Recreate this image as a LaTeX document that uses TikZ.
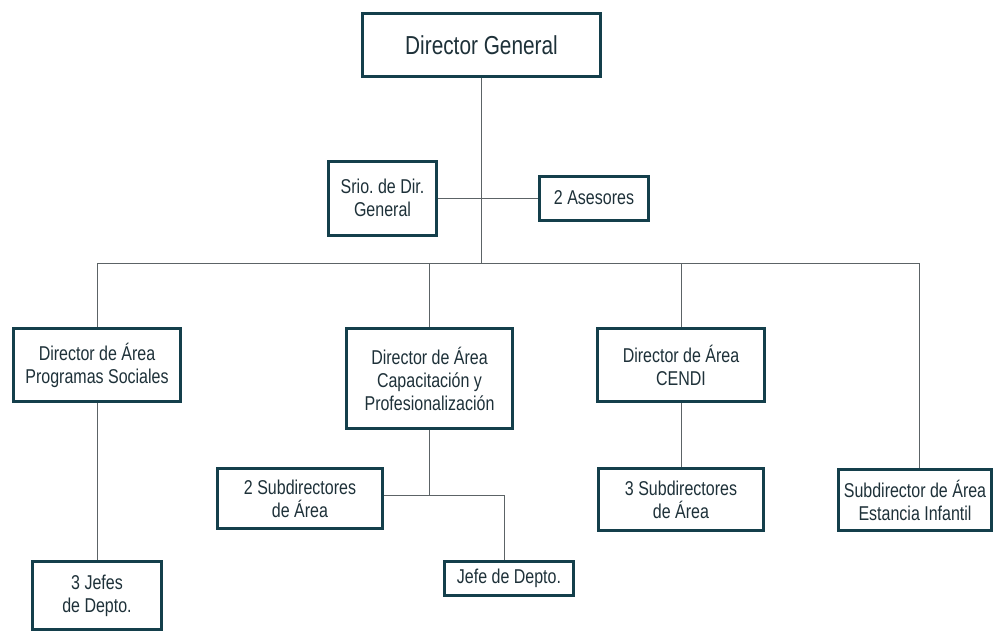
\documentclass[tikz,border=0pt]{standalone}
\usepackage{fontspec}
\setmainfont{Liberation Sans}[FakeStretch=0.8]
\usepackage{tikz}
\frenchspacing
\definecolor{frame}{HTML}{143F4B}
\definecolor{ink}{HTML}{1E3139}
\definecolor{wire}{HTML}{5C6366}
\tikzset{
  post/.style={draw=frame, line width=3pt, fill=white, text=ink, align=center, inner sep=2pt, font=\fontsize{20}{23}\selectfont},
  head/.style={post, font=\fontsize{26}{30}\selectfont},
  link/.style={draw=wire, line width=1pt}
}
\begin{document}
\begin{tikzpicture}[x=1pt, y=-1pt]
\useasboundingbox (0,0) rectangle (995,633);

\node[head, minimum width=238pt, minimum height=63pt] (dg) at (481.5,45) {Director General};
\node[post, minimum width=108pt, minimum height=74pt] (srio) at (382.5,198) {Srio. de Dir.\\General};
\node[post, minimum width=109pt, minimum height=44pt] (ases) at (594,198) {2 Asesores};

\node[post, minimum width=167pt, minimum height=73pt] (prog) at (97,365) {Director de Área\\Programas Sociales};
\node[post, minimum width=166pt, minimum height=100pt] (capa) at (429.5,378.5) {Director de Área\\Capacitación y\\Profesionalización};
\node[post, minimum width=167pt, minimum height=73pt] (cendi) at (681,365) {Director de Área\\CENDI};

\node[post, minimum width=129pt, minimum height=68pt] (jefes) at (97,595.5) {3 Jefes\\de Depto.};
\node[post, minimum width=165pt, minimum height=60pt] (subdos) at (300,498.5) {2 Subdirectores\\de Área};
\node[post, minimum width=129pt, minimum height=34pt] (jefe) at (509,578.5) {Jefe de Depto.};
\node[post, minimum width=165pt, minimum height=62pt] (subtres) at (681,499.5) {3 Subdirectores\\de Área};
\node[post, minimum width=153pt, minimum height=61pt] (estancia) at (915,500) {Subdirector de Área\\Estancia Infantil};

\coordinate (busL) at (97,263);
\coordinate (busR) at (919,263);
\coordinate (knot) at (504,495);

\draw[link] (busL) -- (busR);
\draw[link] (dg.south) -- (dg.south |- busL);
\draw[link] (srio.east) -- (ases.west);
\draw[link] (busL) -- (prog.north);
\draw[link] (capa.north |- busL) -- (capa.north);
\draw[link] (cendi.north |- busL) -- (cendi.north);
\draw[link] (busR) -- (busR |- estancia.north);

\draw[link] (prog.south) -- (jefes.north);
\draw[link] (cendi.south) -- (subtres.north);
\draw[link] (capa.south) -- (capa.south |- knot);
\draw[link] (subdos.east |- knot) -- (knot) -- (knot |- jefe.north);
\end{tikzpicture}
\end{document}
